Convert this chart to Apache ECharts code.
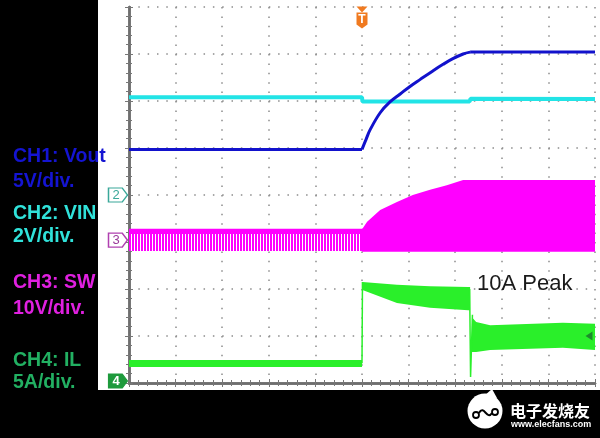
<!DOCTYPE html>
<html><head><meta charset="utf-8">
<script src="https://cdn.jsdelivr.net/npm/echarts@6/dist/echarts.min.js"></script>
<style>html,body{margin:0;padding:0;background:#000}#c{width:600px;height:438px}</style>
</head><body><div id="c"></div>
<script>
// All values in screen divisions (x: 0..10 time div, y: 0..8 vertical div)
const xDivs = 10, yDivs = 8;
const ch1Flat = [[0,4.97],[5.0,4.97]];
const ch1Rise = [[5.0,4.97],[5.09,5.19],[5.17,5.38],[5.39,5.75],[5.60,5.98],[5.82,6.15],[6.03,6.31],[6.25,6.46],[6.52,6.64],[6.74,6.78],[6.95,6.90],[7.17,7.0],[7.32,7.04]];
const ch1High = [[7.32,7.04],[10,7.04]];
const ch2Vin = [[0,6.08],[5.0,6.08],[5.01,5.99],[7.31,5.99],[7.33,6.05],[10,6.04]];
// bands: [x, low, high]
const ch3PreTop = [[0,3.17,3.28],[5.0,3.17,3.28]];
const ch3PrePulses = [[0,2.81,3.17],[5.0,2.81,3.17]];
const ch3Post = [[5.0,2.79,3.28],[5.02,2.79,3.30],[5.11,2.79,3.43],[5.39,2.79,3.68],[5.75,2.79,3.85],[6.09,2.79,4.0],[6.46,2.79,4.11],[6.82,2.79,4.21],[7.17,2.79,4.32],[10,2.79,4.32]];
const ch4Pre = [[0,0.34,0.49],[5.0,0.34,0.49]];
const ch4Step = [[5.0,0.42],[5.01,2.15]];
const ch4High = [[5.01,1.98,2.15],[5.75,1.70,2.09],[6.46,1.60,2.06],[7.28,1.55,2.04],[7.32,1.55,2.04]];
const ch4Drop = [[7.31,2.0],[7.33,0.13],[7.37,1.45]];
const ch4Low = [[7.36,0.66,1.40],[7.45,0.66,1.30],[7.75,0.70,1.23],[9.31,0.75,1.28],[10,0.70,1.26]];
const peakLabel = '10A Peak';
const legendLines = [
  ['CH1: Vout', '#1414d2', 157], ['5V/div.', '#1414d2', 182],
  ['CH2: VIN', '#30e2da', 214], ['2V/div.', '#30e2da', 237],
  ['CH3: SW', '#e020e0', 283], ['10V/div.', '#e020e0', 309],
  ['CH4: IL', '#22b062', 361], ['5A/div.', '#22b062', 383]
];

const pc = document.createElement('canvas'); pc.width = 3; pc.height = 4;
const g = pc.getContext('2d');
g.fillStyle = '#ff00ff'; g.fillRect(0,0,2,4); g.fillStyle = '#ffffff'; g.fillRect(2,0,1,4);
const stripes = {image: pc, repeat: 'repeat'};

function band(name, pts, fill, z) {
  return {type:'custom', name, z, silent:true, data:[[0,0]], animation:false,
    renderItem: (params, api) => {
      const top = pts.map(p => api.coord([p[0], p[2]]));
      const bot = pts.map(p => api.coord([p[0], p[1]])).reverse();
      return {type:'polygon', shape:{points: top.concat(bot)}, style:{fill: fill}};
    }};
}
function line(name, data, color, width, z, extra) {
  return Object.assign({type:'line', name, data, showSymbol:false, symbol:'none', z, silent:true, animation:false,
    lineStyle:{color, width}}, extra || {});
}
const tickColor = '#777';
function xAx(pos, split) {
  return {type:'value', min:0, max:xDivs, interval:1, position:pos,
    axisLine:{show:true, lineStyle:{color:'#6e6e6e', width:2.5}},
    axisTick:{show:true, inside:true, length:4, lineStyle:{color:tickColor}},
    minorTick:{show:true, splitNumber:5, length:3, lineStyle:{color:tickColor}},
    axisLabel:{show:false},
    splitLine:{show:split, lineStyle:{color:'#8c8c8c', width:1.5, type:[1.5,7.9]}}};
}
function yAx(pos, split) {
  return {type:'value', min:0, max:yDivs, interval:1, position:pos,
    axisLine:{show:true, lineStyle:{color:'#6e6e6e', width:2.5}},
    axisTick:{show:true, inside:true, length:4, lineStyle:{color:tickColor}},
    minorTick:{show:true, splitNumber:5, length:3, lineStyle:{color:tickColor}},
    axisLabel:{show:false},
    splitLine:{show:split, lineStyle:{color:'#8c8c8c', width:1.5, type:[1.5,7.82]}}};
}

const markers = {
  symbolKeepAspect:false, animation:false, silent:true,
  data:[
    {coord:[0,4], symbol:'path://M0,0 L13,0 L18,7 L13,14 L0,14 Z', symbolSize:[19,14], symbolOffset:[-11,0],
     itemStyle:{color:'#fff', borderColor:'#3aa89a', borderWidth:1.3},
     label:{show:true, position:'inside', formatter:'2', color:'#3aa89a', fontSize:13, fontFamily:'Liberation Sans', offset:[-2,0]}},
    {coord:[0,3.04], symbol:'path://M0,0 L13,0 L18,7 L13,14 L0,14 Z', symbolSize:[19,14], symbolOffset:[-11,0],
     itemStyle:{color:'#fff', borderColor:'#b040b0', borderWidth:1.3},
     label:{show:true, position:'inside', formatter:'3', color:'#9a3a9a', fontSize:13, fontFamily:'Liberation Sans', offset:[-2,0]}},
    {coord:[0,0], symbol:'path://M0,0 L13,0 L18,7 L13,14 L0,14 Z', symbolSize:[19,14], symbolOffset:[-11,-2],
     itemStyle:{color:'#1e9a3c', borderColor:'#1e9a3c', borderWidth:1},
     label:{show:true, position:'inside', formatter:'4', color:'#fff', fontWeight:'bold', fontSize:13, fontFamily:'Liberation Sans', offset:[-2,0]}},
    {coord:[5,8], symbol:'triangle', symbolRotate:180, symbolSize:[11,6], symbolOffset:[0,2.5],
     itemStyle:{color:'#f07a20'}, label:{show:false}},
    {coord:[5,8], symbol:'path://M0,0 L10,0 L10,12 L5,16 L0,12 Z', symbolSize:[11,16], symbolOffset:[0,13.5],
     itemStyle:{color:'#f07a20'},
     label:{show:true, position:'inside', formatter:'T', color:'#fff', fontWeight:'bold', fontSize:12, fontFamily:'Liberation Sans', offset:[0,-1]}},
    {coord:[10,1.0], symbol:'triangle', symbolRotate:90, symbolSize:[9,7], symbolOffset:[-6,0],
     itemStyle:{color:'#1d8a2d'}, label:{show:false}}
  ]
};

const chart = echarts.init(document.getElementById('c'), null, {renderer:'canvas'});
chart.setOption({
  backgroundColor:'#ffffff',
  animation:false,
  grid:{left:129, top:7, width:466, height:376},
  xAxis:[xAx('bottom', true), xAx('top', false)],
  yAxis:[yAx('left', true), yAx('right', false)],
  series:[
    band('CH3 pre top', ch3PreTop, '#ff00ff', 3),
    band('CH3 pre pulses', ch3PrePulses, stripes, 3),
    band('CH3 post', ch3Post, '#ff00ff', 3),
    band('CH4 pre', ch4Pre, '#2aef2a', 4),
    band('CH4 high', ch4High, '#2aef2a', 4),
    band('CH4 low', ch4Low, '#2aef2a', 4),
    line('CH4 step', ch4Step, '#2aef2a', 1.5, 4),
    line('CH4 drop', ch4Drop, '#2aef2a', 1.5, 4),
    line('CH2 VIN', ch2Vin, '#22e4e6', 4, 5),
    line('CH1 Vout flat', ch1Flat, '#1212cc', 3, 6, {markPoint: markers}),
    line('CH1 Vout rise', ch1Rise, '#1212cc', 3, 6, {smooth:0.4}),
    line('CH1 Vout high', ch1High, '#1212cc', 3, 6)
  ],
  graphic:[
    {type:'rect', z:0, shape:{x:0, y:0, width:98, height:438}, style:{fill:'#000'}},
    {type:'rect', z:0, shape:{x:0, y:390, width:600, height:48}, style:{fill:'#000'}},
    ...legendLines.map(l => ({type:'text', z:10, x:13, y:l[2],
      style:{text:l[0], fill:l[1], font:'bold 19.5px "Liberation Sans", Arial, sans-serif', verticalAlign:'middle'}})),
    {type:'text', z:10, x:477, y:284, style:{text:peakLabel, fill:'#1a1a1a', font:'22px "Liberation Sans", Arial, sans-serif', verticalAlign:'middle'}},
    {type:'polygon', z:10, shape:{points:[[484,396],[492,389],[497,398]]}, style:{fill:'#fff'}},
    {type:'circle', z:10, shape:{cx:485, cy:411, r:17.5}, style:{fill:'#fff'}},
    {type:'circle', z:11, shape:{cx:476, cy:415, r:3}, style:{fill:'none', stroke:'#000', lineWidth:1.8}},
    {type:'circle', z:11, shape:{cx:495, cy:412, r:3}, style:{fill:'none', stroke:'#000', lineWidth:1.8}},
    {type:'bezierCurve', z:11, shape:{x1:479, y1:413, x2:492, y2:413, cpx1:484, cpy1:404, cpx2:487, cpy2:421}, style:{stroke:'#000', lineWidth:2, fill:'none'}},
    {type:'text', z:10, x:510, y:411, style:{text:'电子发烧友', fill:'#fff', font:'bold 16px "Noto Sans CJK SC", sans-serif', verticalAlign:'middle'}},
    {type:'text', z:10, x:511, y:425, style:{text:'www.elecfans.com', fill:'#fff', font:'bold 9px "Liberation Sans", Arial, sans-serif', verticalAlign:'middle'}}
  ]
});
</script>
</body></html>
